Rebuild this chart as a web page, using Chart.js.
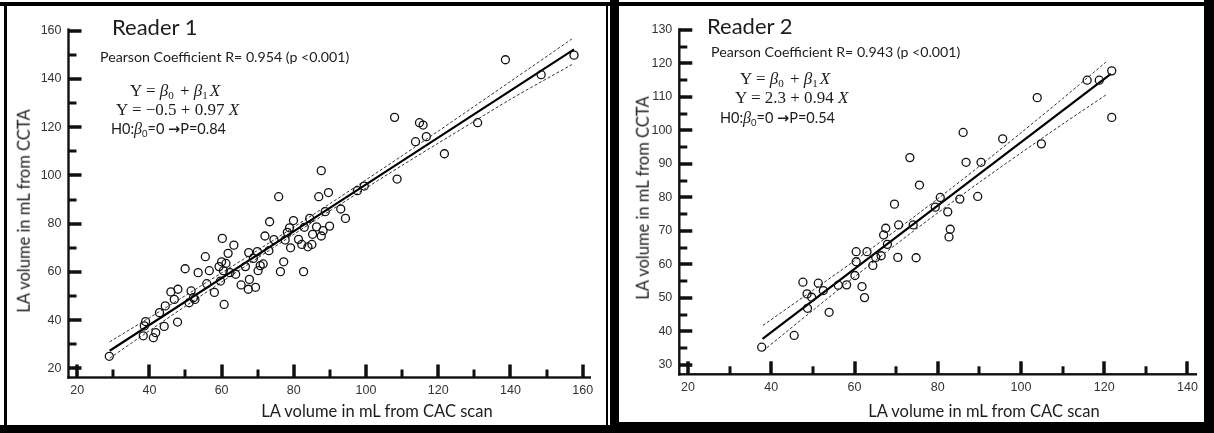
<!DOCTYPE html>
<html><head><meta charset="utf-8">
<script src="https://cdn.jsdelivr.net/npm/chart.js@4.4.1/dist/chart.umd.min.js"></script>
<style>
html,body{margin:0;padding:0;background:#fff;}
#wrap{position:relative;width:1214px;height:433px;overflow:hidden;background:#fff;font-family:Lato,'Open Sans',sans-serif;color:#1c1c1c;}
.blk{position:absolute;background:#000;}
canvas{position:absolute;}
.t{position:absolute;white-space:nowrap;line-height:1;}
.ttl{font-size:22px;}
.pc{font-size:14.2px;}
.eq{font-family:'Liberation Serif','DejaVu Serif',serif;font-size:17px;}
.eq i{font-style:italic;}
.sp{display:inline-block;width:2px;}
.h0{font-size:14.5px;}
.h0 i{font-family:'Liberation Serif',serif;font-style:italic;font-size:16px;}
sub{font-size:65%;vertical-align:-3px;line-height:0;}
.ax{font-size:16.5px;}
.rot{transform:translate(-50%,-50%) rotate(-90deg);}
</style></head><body>
<div id="wrap">
  <div class="blk" style="left:0;top:2px;width:1214px;height:4px"></div>
  <div class="blk" style="left:4px;top:2px;width:3px;height:431px"></div>
  <div class="blk" style="left:0;top:425px;width:612px;height:8px"></div>
  <div class="blk" style="left:606px;top:2px;width:2px;height:431px"></div>
  <div class="blk" style="left:610px;top:0;width:9px;height:433px"></div>
  <div class="blk" style="left:1204px;top:0;width:10px;height:433px"></div>
  <div class="blk" style="left:610px;top:422px;width:604px;height:11px"></div>

  <canvas id="c1" width="598" height="419" style="left:8px;top:6px"></canvas>
  <canvas id="c2" width="584" height="416" style="left:620px;top:6px"></canvas>

  <div class="t ttl" style="left:112px;top:16px">Reader 1</div>
  <div class="t pc" style="left:100px;top:50px">Pearson Coefficient R= 0.954 (p &lt;0.001)</div>
  <div class="t eq" style="left:130px;top:82px">Y = <i>β</i><sub>0</sub><span class="sp"></span> + <i>β</i><sub>1</sub><span class="sp"></span><i>X</i></div>
  <div class="t eq" style="left:116px;top:101px">Y = −0.5 + 0.97 <i>X</i></div>
  <div class="t h0" style="left:111px;top:121px">H0:<i>β</i><sub>0</sub>=0 <b style="font-family:'DejaVu Sans'">→</b>P=0.84</div>
  <div class="t ax rot" style="left:24px;top:211px">LA volume in mL from CCTA</div>
  <div class="t ax" style="left:377px;top:411px;transform:translate(-50%,-50%)">LA volume in mL from CAC scan</div>

  <div class="t ttl" style="left:707px;top:15px">Reader 2</div>
  <div class="t pc" style="left:711px;top:45px">Pearson Coefficient R= 0.943 (p &lt;0.001)</div>
  <div class="t eq" style="left:740px;top:70px">Y = <i>β</i><sub>0</sub><span class="sp"></span> + <i>β</i><sub>1</sub><span class="sp"></span><i>X</i></div>
  <div class="t eq" style="left:735px;top:89px">Y = 2.3 + 0.94 <i>X</i></div>
  <div class="t h0" style="left:720px;top:110px">H0:<i>β</i><sub>0</sub>=0 <b style="font-family:'DejaVu Sans'">→</b>P=0.54</div>
  <div class="t ax rot" style="left:643px;top:198px">LA volume in mL from CCTA</div>
  <div class="t ax" style="left:984px;top:411px;transform:translate(-50%,-50%)">LA volume in mL from CAC scan</div>
</div>
<script>
// ---------- Reader 1 data ----------
const R1_X = [28.9,38.3,38.6,38.95,41.1,41.75,42.8,44.1,44.4,45.95,46.9,47.8,47.9,49.9,51.0,51.55,52.2,52.6,53.5,55.5,55.9,56.6,58.0,59.3,59.7,60.2,60.0,60.5,60.7,61.2,61.8,62.3,63.4,63.9,65.4,66.6,67.5,67.4,67.7,68.8,69.4,69.9,70.1,70.7,71.5,72.0,73.1,73.3,74.5,75.8,76.3,77.2,77.6,78.2,78.8,79.1,79.9,81.3,82.2,82.7,82.9,83.9,84.4,85.0,85.2,86.3,86.9,87.6,87.6,88.1,88.7,89.6,89.9,93.0,94.3,97.6,99.5,107.9,108.6,113.7,114.8,115.8,116.7,121.7,130.9,138.6,148.5,157.6];
const R1_Y = [25.0,33.5,37.6,39.4,32.7,34.8,43.1,37.4,45.9,51.7,48.6,39.2,52.8,61.3,47.2,52.1,49.3,48.6,59.7,66.3,55.1,60.5,51.5,62.2,56.2,73.9,64.2,60.5,46.5,63.5,67.7,59.7,71.1,59.0,54.6,62.2,68.0,52.8,56.9,65.6,53.6,68.4,60.5,62.6,63.3,74.9,68.8,80.8,73.4,91.2,60.1,64.2,73.2,76.4,78.3,70.0,81.3,73.5,71.4,60.1,78.5,70.4,82.2,71.4,75.6,78.7,91.2,74.9,102.0,77.1,85.0,92.9,79.0,86.1,82.2,93.7,95.6,124.1,98.5,114.0,121.9,120.9,116.1,109.0,121.9,148.0,141.8,149.9];
const R1_FIT_X = [29, 157.6];
const R1_FIT_Y = [27.3, 152.3];
const R1_BAND_X = [29, 40, 50, 60, 70, 80, 90, 100, 110, 120, 130, 140, 157];
const R1_UPPER = [31.0, 41.0, 50.2, 59.6, 69.0, 78.6, 88.3, 98.2, 108.2, 118.4, 128.7, 139.0, 156.6];
const R1_LOWER = [24.2, 35.6, 45.8, 55.8, 65.8, 75.6, 85.3, 94.8, 104.2, 113.4, 122.5, 131.6, 146.0];
const R1_X_TICKS = [20, 40, 60, 80, 100, 120, 140, 160];
const R1_X_MINOR = [30, 50, 70, 90, 110, 130, 150];
const R1_Y_TICKS = [20, 40, 60, 80, 100, 120, 140, 160];
const R1_Y_MINOR = [30, 50, 70, 90, 110, 130, 150];

// ---------- Reader 2 data ----------
const R2_X = [37.7,45.5,47.6,48.6,48.7,49.7,51.3,52.5,53.9,56.1,58.1,60.1,60.4,60.4,61.8,62.4,63.0,64.4,65.1,66.4,67.0,67.5,67.9,69.6,70.4,70.6,73.3,74.1,74.8,75.6,79.4,80.6,82.4,83.0,82.7,85.3,86.1,86.8,89.6,90.4,95.6,103.9,104.9,115.9,118.8,121.8,121.8];
const R2_Y = [35.3,38.8,54.7,51.2,46.9,50.2,54.4,52.2,45.7,53.8,53.9,56.7,63.8,60.8,53.4,50.1,63.8,59.7,62.1,62.6,68.8,70.8,66.0,78.0,62.1,71.8,91.9,71.8,62.0,83.7,77.1,80.0,75.7,70.5,68.2,79.5,99.4,90.5,80.3,90.5,97.5,109.8,96.0,115.0,115.0,117.8,103.9];
const R2_FIT_X = [37.9, 121.6];
const R2_FIT_Y = [37.8, 116.9];
const R2_BAND_X = [38, 50, 60, 70, 80, 90, 100, 110, 120.4];
const R2_UPPER = [41.8, 52.3, 61.1, 70.2, 79.6, 89.3, 99.3, 109.5, 120.4];
const R2_LOWER = [34.2, 46.3, 56.3, 66.0, 75.4, 84.5, 93.3, 101.9, 110.6];
const R2_X_TICKS = [20, 40, 60, 80, 100, 120, 140];
const R2_X_MINOR = [30, 50, 70, 90, 110, 130];
const R2_Y_TICKS = [30, 40, 50, 60, 70, 80, 90, 100, 110, 120, 130];
const R2_Y_MINOR = [35, 45, 55, 65, 75, 85, 95, 105, 115, 125];

const zip = (xs, ys) => xs.map((x, i) => ({x: x, y: ys[i]}));

function axisPlugin(cfg) {
  const xMarks = cfg.xTicks.map(v => [v, 13, 3.5]).concat(cfg.xMinor.map(v => [v, 8, 3]));
  const yMarks = cfg.yTicks.map(v => [v, 13, 3.5]).concat(cfg.yMinor.map(v => [v, 8, 3]));
  return {
    id: 'inwardAxes',
    afterDraw(chart) {
      const ctx = chart.ctx, a = chart.chartArea, xs = chart.scales.x, ys = chart.scales.y;
      ctx.save();
      ctx.fillStyle = '#101010';
      for (const m of xMarks) {
        const p = Math.round(xs.getPixelForValue(m[0]));
        ctx.fillRect(p - m[2] / 2, a.bottom - m[1], m[2], m[1]);
      }
      for (const m of yMarks) {
        const p = Math.round(ys.getPixelForValue(m[0]));
        ctx.fillRect(a.left, p - m[2] / 2, m[1], m[2]);
      }
      ctx.fillRect(a.left - 1.2, a.top, 2.4, a.bottom - a.top + 1.2);
      ctx.fillRect(a.left - 1.2, a.bottom - 1.2, a.right - a.left + 1.2, 2.4);
      ctx.restore();
    }
  };
}

function makeChart(id, cfg) {
  const dotStyle = {type: 'scatter', pointStyle: 'circle', pointRadius: 4, pointBorderWidth: 1.3,
    pointBackgroundColor: 'rgba(0,0,0,0)', pointBorderColor: '#111', showLine: false, order: 1};
  const lineStyle = (data, w, dash, col) => ({type: 'line', data: data, borderColor: col, borderWidth: w,
    borderDash: dash, pointRadius: 0, fill: false, tension: 0.3, order: 2});
  const tickFont = {family: "'Liberation Sans', Arial", size: 12.5};
  new Chart(document.getElementById(id), {
    type: 'scatter',
    data: {datasets: [
      Object.assign({data: zip(cfg.xs, cfg.ys)}, dotStyle),
      lineStyle(zip(cfg.fitX, cfg.fitY), 2.2, [], '#000'),
      lineStyle(zip(cfg.bandX, cfg.upper), 1, [3, 2], '#333'),
      lineStyle(zip(cfg.bandX, cfg.lower), 1, [3, 2], '#333')
    ]},
    options: {
      responsive: false, animation: false, devicePixelRatio: 1,
      layout: {padding: cfg.pad},
      plugins: {legend: {display: false}, tooltip: {enabled: false}},
      scales: {
        x: {type: 'linear', min: cfg.xMin, max: cfg.xMax, grid: {display: false, drawTicks: false}, border: {display: false},
          afterFit: s => { s.height = 25; },
          afterBuildTicks: s => { s.ticks = cfg.xTicks.map(v => ({value: v})); },
          ticks: {padding: 6, color: '#333', font: tickFont, maxRotation: 0, autoSkip: false}},
        y: {type: 'linear', min: cfg.yMin, max: cfg.yMax, grid: {display: false, drawTicks: false}, border: {display: false},
          afterFit: s => { s.width = 45; },
          afterBuildTicks: s => { s.ticks = cfg.yTicks.map(v => ({value: v})); },
          ticks: {padding: 7, color: '#333', font: tickFont, autoSkip: false}}
      }
    },
    plugins: [axisPlugin(cfg)]
  });
}

makeChart('c1', {xs: R1_X, ys: R1_Y, fitX: R1_FIT_X, fitY: R1_FIT_Y, bandX: R1_BAND_X, upper: R1_UPPER, lower: R1_LOWER,
  xTicks: R1_X_TICKS, xMinor: R1_X_MINOR, yTicks: R1_Y_TICKS, yMinor: R1_Y_MINOR,
  xMin: 17.6, xMax: 162.3, yMin: 16.2, yMax: 161,
  pad: {left: 15.5, right: 15, top: 22.4, bottom: 22.5}});

makeChart('c2', {xs: R2_X, ys: R2_Y, fitX: R2_FIT_X, fitY: R2_FIT_Y, bandX: R2_BAND_X, upper: R2_UPPER, lower: R2_LOWER,
  xTicks: R2_X_TICKS, xMinor: R2_X_MINOR, yTicks: R2_Y_TICKS, yMinor: R2_Y_MINOR,
  xMin: 17.9, xMax: 142.3, yMin: 27.2, yMax: 130.5,
  pad: {left: 14.3, right: 4.6, top: 22.3, bottom: 22.7}});
</script>
</body></html>
